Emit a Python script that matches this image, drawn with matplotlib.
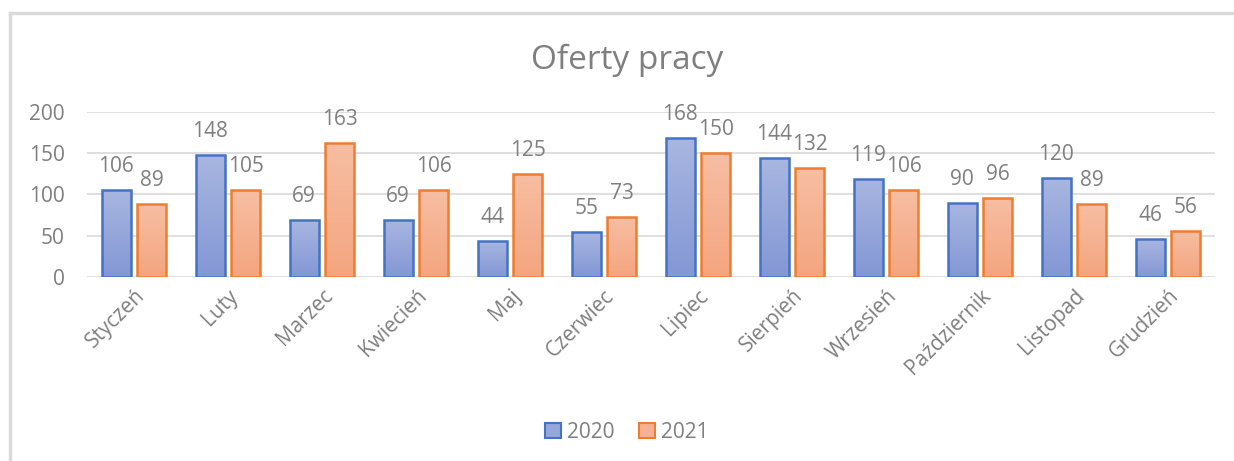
import numpy as np
import matplotlib
matplotlib.use("Agg")
import matplotlib.pyplot as plt
from matplotlib.colors import LinearSegmentedColormap
from matplotlib.patches import Rectangle
from matplotlib.lines import Line2D

months = ["Styczeń", "Luty", "Marzec", "Kwiecień", "Maj", "Czerwiec", "Lipiec",
          "Sierpień", "Wrzesień", "Październik", "Listopad", "Grudzień"]
values_2020 = [106, 148, 69, 69, 44, 55, 168, 144, 119, 90, 120, 46]
values_2021 = [89, 105, 163, 106, 125, 73, 150, 132, 106, 96, 89, 56]
series_names = ["2020", "2021"]
yticks = [0, 50, 100, 150, 200]

plt.rcParams['font.family'] = ['Open Sans', 'DejaVu Sans']
gray = "#7F7F7F"
fs = 15

fig = plt.figure(figsize=(12.34, 4.61), dpi=100)
# outer frame (left and top)
fig.add_artist(Line2D([10.5/1234, 10.5/1234], [0, 1 - 13/461], color="#D9D9D9", lw=2.5))
fig.add_artist(Line2D([10.5/1234, 1], [1 - 13/461, 1 - 13/461], color="#D9D9D9", lw=2.5))

ax = fig.add_axes([87/1234, 1 - 277/461, (1215 - 87)/1234, (277 - 112)/461])
ax.set_xlim(-0.5, len(months) - 0.5)
ax.set_ylim(0, 200)

bw = 0.31
off = 0.19
cmap_b = LinearSegmentedColormap.from_list("b", ["#A8B6E0", "#8397D5"])
cmap_o = LinearSegmentedColormap.from_list("o", ["#F7BEA3", "#F4A57F"])
grad = np.linspace(0, 1, 256).reshape(-1, 1)

x = np.arange(len(months))
for vals, sign, cmap, ec in [(values_2020, -1, cmap_b, "#4472C4"), (values_2021, 1, cmap_o, "#ED7D31")]:
    bars = ax.bar(x + sign * off, vals, width=bw, facecolor="none", edgecolor=ec, linewidth=1.8, zorder=3)
    for b, v in zip(bars, vals):
        x0 = b.get_x()
        im = ax.imshow(grad, cmap=cmap, aspect="auto", extent=[x0, x0 + bw, 0, v],
                       origin="upper", zorder=2)
        im.set_clip_path(b)
        ax.annotate(str(v), (x0 + bw / 2, v), xytext=(0, 18), textcoords="offset pixels",
                    ha="center", va="baseline", fontsize=fs, color=gray)

ax.set_xlim(-0.5, len(months) - 0.5)
ax.set_ylim(0, 200)
ax.set_yticks(yticks)
ax.yaxis.grid(True, color="#D9D9D9", lw=1.2, zorder=0)
ax.set_axisbelow(True)
for s in ax.spines.values():
    s.set_visible(False)
ax.tick_params(axis="y", length=0, labelsize=fs, labelcolor=gray, pad=16)
ax.tick_params(axis="x", length=0, labelsize=fs, labelcolor=gray, pad=6)
ax.set_xticks(x)
ax.set_xticklabels(months, rotation=45, ha="right", rotation_mode="anchor")

fig.text(627/1234, 1 - 60/461, "Oferty pracy", ha="center", va="center", fontsize=24, color=gray)

handles = [Rectangle((0, 0), 1, 1, facecolor="#96A7DB", edgecolor="#4472C4", lw=1.5),
           Rectangle((0, 0), 1, 1, facecolor="#F6B193", edgecolor="#ED7D31", lw=1.5)]
fig.legend(handles, series_names, loc="center", bbox_to_anchor=(627/1234, 1 - 432/461), ncol=2,
           frameon=False, fontsize=fs, labelcolor=gray, handlelength=0.75, handleheight=0.75,
           handletextpad=0.3, columnspacing=1.2)

fig.savefig("out.png", dpi=100, facecolor="white")
